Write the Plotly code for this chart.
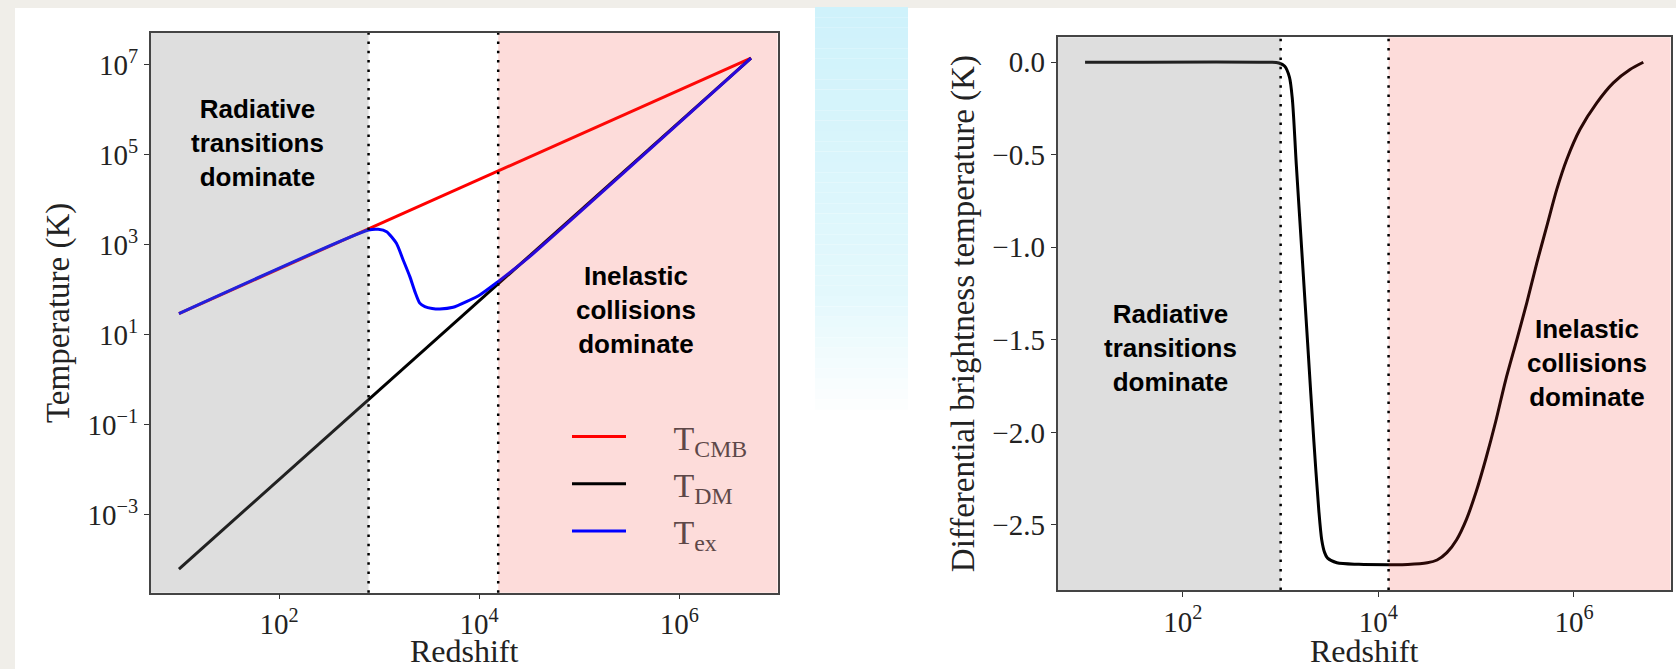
import plotly.graph_objects as go

W, H = 1676, 669

# ---------------- data ----------------
# Left panel: temperatures vs redshift
z_cmb = [10, 5.2e6]
T_cmb = [30, 1.42e7]

z_dm = [10, 5.2e6]
T_dm = [6.3e-5, 1.42e7]

z_ex = [10, 785, 980, 1190, 1490, 1740, 2030, 2280, 2550, 2864, 3388, 4046,
        5495, 7464, 10139, 15453, 21827, 31989, 5.2e6]
T_ex = [30, 2150, 2230, 1980, 1090, 465, 198, 92, 51, 42.7, 38.9, 37.8,
        41.2, 55.1, 77.4, 153, 278, 551, 1.42e7]

# Right panel: differential brightness temperature vs redshift
z_dtb = [10, 794, 955, 1096, 1230, 1318, 1445, 1660, 1905, 2188, 2455, 2630,
         2818, 3020, 3758, 6310, 12590, 19950, 31620, 39810, 50120, 63100,
         79430, 100000, 125900, 158500, 199500, 260000, 328900, 416900,
         527200, 666800, 843300, 1153000, 1710000, 2523000, 3741000, 5117000]
dTb = [0, 0, -0.004, -0.02, -0.08, -0.2, -0.55, -1.05, -1.55, -2.05, -2.42,
       -2.58, -2.65, -2.68, -2.705, -2.713, -2.715, -2.714, -2.705, -2.69,
       -2.65, -2.58, -2.47, -2.32, -2.14, -1.94, -1.72, -1.50, -1.30, -1.084,
       -0.886, -0.687, -0.525, -0.362, -0.219, -0.111, -0.039, 0]

# regime boundaries
left_bounds = [785, 15500]
right_bounds = [1000, 12700]

left_xrange = [0.718, 6.983]
left_yrange = [-4.727, 7.711]
right_xrange = [0.718, 6.989]
right_yrange = [-2.852, 0.135]

xtick_vals = [1e2, 1e4, 1e6]
xtick_text = ["10<sup>2</sup>", "10<sup>4</sup>", "10<sup>6</sup>"]
ly_vals = [1e7, 1e5, 1e3, 1e1, 1e-1, 1e-3]
ly_text = ["10<sup>7</sup>", "10<sup>5</sup>", "10<sup>3</sup>", "10<sup>1</sup>",
           "10<sup>\u22121</sup>", "10<sup>\u22123</sup>"]
ry_vals = [0.0, -0.5, -1.0, -1.5, -2.0, -2.5]
ry_text = ["0.0", "\u22120.5", "\u22121.0", "\u22121.5", "\u22122.0", "\u22122.5"]

legend_names = ["T<sub>CMB</sub>", "T<sub>DM</sub>", "T<sub>ex</sub>"]

SERIF = "Liberation Serif"
SANS = "Liberation Sans"
PAD = "\u00a0" * 5

fig = go.Figure()

fig.add_trace(go.Scatter(x=z_cmb, y=T_cmb, mode="lines", name=PAD + legend_names[0],
                         line=dict(color="#ff0000", width=3), xaxis="x", yaxis="y",
                         legendgroup="a"))
fig.add_trace(go.Scatter(x=z_dm, y=T_dm, mode="lines", name=PAD + legend_names[1],
                         line=dict(color="#000000", width=3), xaxis="x", yaxis="y",
                         legendgroup="b"))
fig.add_trace(go.Scatter(x=z_ex, y=T_ex, mode="lines", name=PAD + legend_names[2],
                         line=dict(color="#0000ff", width=3, shape="spline", smoothing=0.6),
                         xaxis="x", yaxis="y", legendgroup="c"))
fig.add_trace(go.Scatter(x=z_dtb, y=dTb, mode="lines", showlegend=False,
                         line=dict(color="#000000", width=3, shape="spline", smoothing=0.8),
                         xaxis="x2", yaxis="y2"))

# ---------------- layout geometry ----------------
def fx(px):
    return px / W

def fy(py):
    return 1 - py / H

axis_common = dict(showgrid=False, zeroline=False, showline=True, mirror=True,
                   linecolor="#444444", linewidth=1.5, ticks="outside", ticklen=5,
                   tickwidth=1.2, tickcolor="#333333", automargin=False,
                   tickfont=dict(family=SERIF, size=29, color="#222222"))

title_font = dict(family=SERIF, size=32, color="#222222")

fig.update_layout(
    width=W, height=H,
    margin=dict(l=0, r=0, t=0, b=0),
    paper_bgcolor="#f0eee9",
    plot_bgcolor="#ffffff",
    xaxis=dict(type="log", domain=[fx(150.7), fx(777.7)], range=left_xrange,
               anchor="y", tickvals=xtick_vals, ticktext=xtick_text,
               title=dict(text="Redshift", font=title_font, standoff=9),
               **axis_common),
    yaxis=dict(type="log", domain=[fy(592.7), fy(33)], range=left_yrange,
               anchor="x", tickvals=ly_vals, ticktext=ly_text,
               title=dict(text="Temperature (K)", font=dict(title_font, size=33), standoff=8),
               **axis_common),
    xaxis2=dict(type="log", domain=[fx(1057.5), fx(1670.7)], range=right_xrange,
                anchor="y2", tickvals=xtick_vals, ticktext=xtick_text,
                title=dict(text="Redshift", font=title_font, standoff=8),
                **axis_common),
    yaxis2=dict(domain=[fy(590), fy(37.3)], range=right_yrange, anchor="x2",
                tickvals=ry_vals, ticktext=ry_text,
                title=dict(text="Differential brightness temperature (K)",
                           font=dict(title_font, size=33), standoff=8),
                **axis_common),
    legend=dict(x=fx(567), y=fy(408), xanchor="left", yanchor="top",
                bgcolor="rgba(0,0,0,0)", borderwidth=0, itemwidth=54,
                font=dict(family=SERIF, size=34, color="#5e4848"),
                tracegroupgap=3, traceorder="normal"),
    showlegend=True,
)

shapes = []
# white slide panel
shapes.append(dict(type="rect", xref="paper", yref="paper", x0=fx(15), x1=1,
                   y0=0, y1=fy(8), fillcolor="#ffffff", line=dict(width=0), layer="below"))
# light blue fading panel between the plots
n_strip = 40
top, bottom = 7, 420
c_top = (207, 242, 251)
c_mid = (228, 249, 253)
for i in range(n_strip):
    t = i / (n_strip - 1)
    y0p = top + (bottom - top) * i / n_strip
    y1p = top + (bottom - top) * (i + 1) / n_strip
    if t < 0.7:
        tt = t / 0.7
        col = tuple(int(c_top[k] + (c_mid[k] - c_top[k]) * tt) for k in range(3))
    else:
        tt = (t - 0.7) / 0.3
        col = tuple(int(c_mid[k] + (255 - c_mid[k]) * tt) for k in range(3))
    shapes.append(dict(type="rect", xref="paper", yref="paper", x0=fx(815), x1=fx(908),
                       y0=fy(y1p), y1=fy(y0p), fillcolor="rgb(%d,%d,%d)" % col,
                       line=dict(width=0), layer="below"))

GRAY = "rgba(128,128,128,0.26)"
PINK = "rgba(245,50,35,0.17)"
for xa, ya, xr, bounds in [("x", "y", left_xrange, left_bounds),
                           ("x2", "y2", right_xrange, right_bounds)]:
    shapes.append(dict(type="rect", xref=xa, yref=ya + " domain", x0=10 ** xr[0], x1=bounds[0],
                       y0=0, y1=1, fillcolor=GRAY, line=dict(width=0), layer="above"))
    shapes.append(dict(type="rect", xref=xa, yref=ya + " domain", x0=bounds[1], x1=10 ** xr[1],
                       y0=0, y1=1, fillcolor=PINK, line=dict(width=0), layer="above"))
    for b in bounds:
        shapes.append(dict(type="line", xref=xa, yref=ya + " domain", x0=b, x1=b, y0=0, y1=1,
                           line=dict(color="#000000", width=2.5, dash="2.5px,6.8px"),
                           layer="above"))
fig.update_layout(shapes=shapes)

ann_font = dict(family=SANS, size=26, color="#000000")
annotations = [
    dict(text="<b>Radiative<br>transitions<br>dominate</b>", x=fx(257.6), y=fy(142.7)),
    dict(text="<b>Inelastic<br>collisions<br>dominate</b>", x=fx(636.3), y=fy(310)),
    dict(text="<b>Radiative<br>transitions<br>dominate</b>", x=fx(1170.6), y=fy(348)),
    dict(text="<b>Inelastic<br>collisions<br>dominate</b>", x=fx(1586.5), y=fy(363)),
]
for a in annotations:
    a.update(xref="paper", yref="paper", xanchor="center", yanchor="middle",
             showarrow=False, font=ann_font, align="center")
fig.update_layout(annotations=annotations)

fig.write_html("out.html")
